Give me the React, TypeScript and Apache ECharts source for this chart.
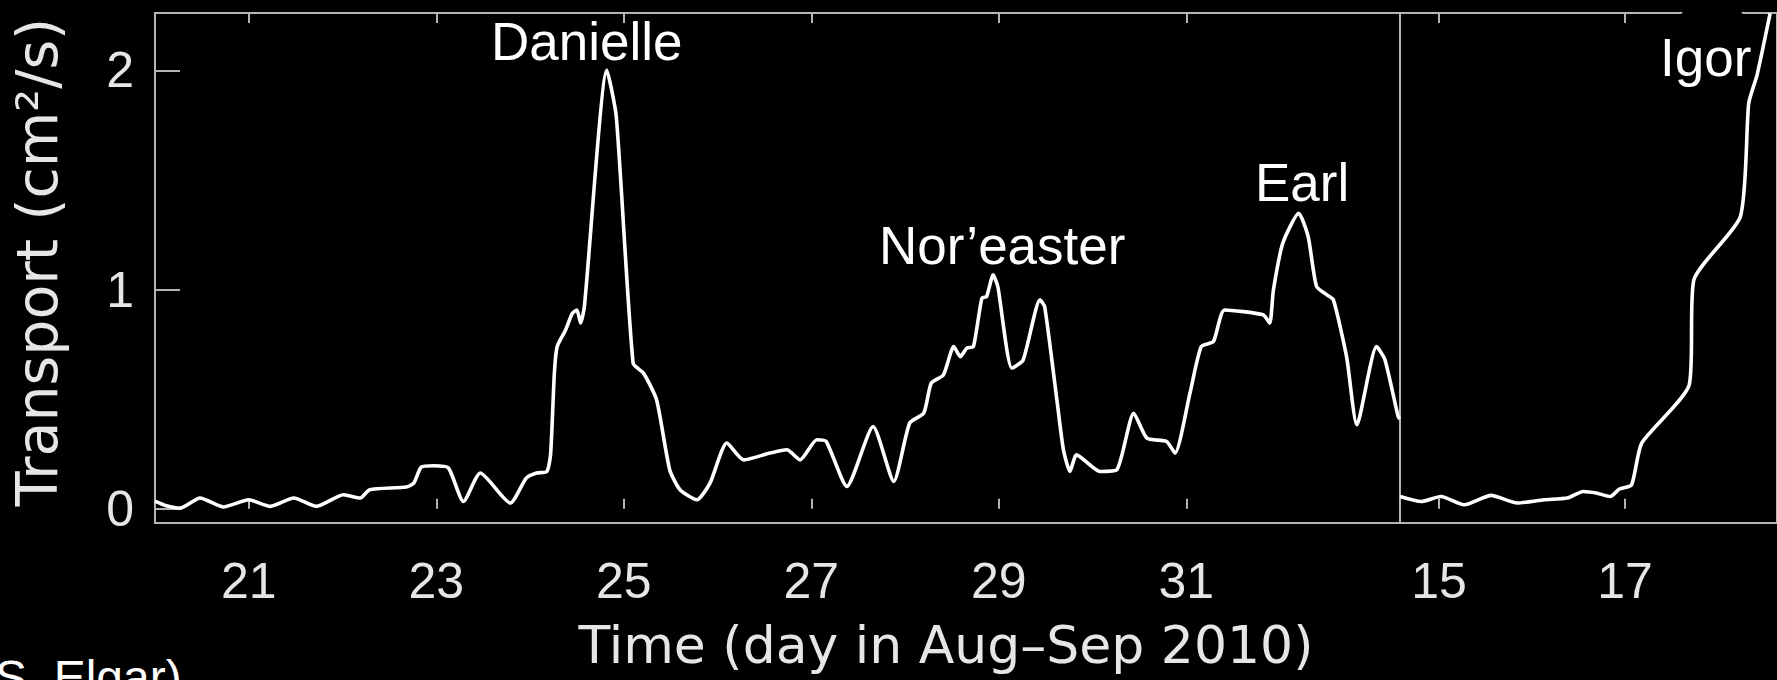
import React, { useEffect, useRef } from "react";
import * as echarts from "echarts";

// Aug 20 – Sep 2 panel (day of month; Sep days continue as 32, 33)
const augSepDays = [
  20.0, 20.12, 20.27, 20.48, 20.73, 21.0, 21.23, 21.48, 21.72, 22.01, 22.19, 22.29, 22.68, 22.76,
  22.84, 22.97, 23.13, 23.29, 23.47, 23.79, 23.96, 24.07, 24.18, 24.22, 24.26, 24.29, 24.38,
  24.45, 24.5, 24.54, 24.58, 24.82, 24.92, 25.1, 25.21, 25.35, 25.49, 25.6, 25.78, 25.92, 26.1,
  26.28, 26.56, 26.74, 26.88, 27.06, 27.16, 27.38, 27.66, 27.88, 28.05, 28.2, 28.28, 28.41, 28.52,
  28.59, 28.66, 28.73, 28.82, 28.87, 28.94, 28.99, 29.14, 29.26, 29.44, 29.49, 29.62, 29.69, 29.76,
  29.83, 30.08, 30.26, 30.44, 30.58, 30.79, 30.88, 31.04, 31.16, 31.29, 31.41, 31.82, 31.89,
  31.93, 32.03, 32.2, 32.3, 32.39, 32.5, 32.57, 32.71, 32.82, 33.03, 33.12, 33.26, 33.28,
];
const augSepTransport = [
  0.035, 0.014, 0.003, 0.049, 0.008, 0.041, 0.011, 0.049, 0.011, 0.064, 0.049, 0.087, 0.099, 0.117,
  0.19, 0.196, 0.186, 0.033, 0.163, 0.026, 0.14, 0.163, 0.17, 0.25, 0.62, 0.74, 0.816,
  0.89, 0.907, 0.848, 0.922, 2.0, 1.79, 0.664, 0.619, 0.497, 0.178, 0.087, 0.041, 0.117, 0.3,
  0.223, 0.254, 0.269, 0.223, 0.315, 0.307, 0.102, 0.375, 0.125, 0.391, 0.436, 0.573, 0.611, 0.74,
  0.694, 0.733, 0.74, 0.961, 0.968, 1.067, 1.014, 0.642, 0.679, 0.953, 0.922, 0.497, 0.269, 0.17,
  0.246, 0.17, 0.178, 0.436, 0.322, 0.307, 0.254, 0.528, 0.74, 0.763, 0.907, 0.885, 0.847,
  0.999, 1.212, 1.348, 1.242, 1.014, 0.976, 0.953, 0.694, 0.383, 0.74, 0.679, 0.421, 0.41,
];

// Sep 14.6 – 18.6 panel
const sepDays = [
  14.58, 14.81, 15.02, 15.27, 15.56, 15.84, 16.13, 16.38, 16.55, 16.69, 16.84, 16.94, 17.07, 17.18,
  17.69, 17.74, 18.24, 18.33, 18.42, 18.56,
];
const sepTransport = [
  0.056, 0.033, 0.056, 0.018, 0.061, 0.026, 0.041, 0.049, 0.079, 0.072, 0.056, 0.09, 0.109, 0.3,
  0.565, 1.044, 1.333, 1.85, 1.98, 2.26,
];

const augSepTicks = [21, 23, 25, 27, 29, 31];
const sepTicks = [15, 17];
const yTicks = [0, 1, 2];

const stormNames = ["Danielle", "Nor\u2019easter", "Earl", "Igor"];
const yTitle = "Transport (cm\u00b2/s)";
const xTitle = "Time (day in Aug\u2013Sep 2010)";
const credit = "(S. Elgar)";

const FRAME = "#b4b4b4";
const LABEL = "#e6e6e6";

export default function App() {
  const ref = useRef<HTMLDivElement>(null);

  useEffect(() => {
    if (!ref.current) return;
    const chart = echarts.init(ref.current, undefined, { renderer: "svg" });

    const zip = (xs: number[], ys: number[]) => xs.map((x, i) => [x, ys[i]]);

    const tickStyle = { color: FRAME, width: 2 };
    const labelStyle = {
      color: LABEL,
      fontSize: 50,
      fontFamily: "Liberation Sans",
    };

    const annFont = '53px "Liberation Sans"';
    const annPos = [
      [491, 41],
      [879, 245],
      [1255, 182],
      [1660, 57],
    ];

    const option: any = {
      animation: false,
      backgroundColor: "#000",
      grid: [
        {
          left: 155,
          top: 13,
          width: 1245,
          height: 510,
          show: true,
          borderColor: FRAME,
          borderWidth: 2,
          backgroundColor: "transparent",
        },
        {
          left: 1400,
          top: 13,
          width: 380,
          height: 510,
          show: true,
          borderColor: FRAME,
          borderWidth: 2,
          backgroundColor: "transparent",
        },
      ],
      xAxis: [
        {
          gridIndex: 0,
          type: "value",
          min: 20,
          max: 33.28,
          position: "bottom",
          axisLine: { show: false },
          splitLine: { show: false },
          axisTick: { inside: true, length: 10, lineStyle: tickStyle, customValues: augSepTicks },
          axisLabel: { ...labelStyle, margin: 33, customValues: augSepTicks },
        },
        {
          gridIndex: 0,
          type: "value",
          min: 20,
          max: 33.28,
          position: "top",
          axisLine: { show: false },
          splitLine: { show: false },
          axisTick: { inside: true, length: 10, lineStyle: tickStyle, customValues: augSepTicks },
          axisLabel: { show: false },
        },
        {
          gridIndex: 1,
          type: "value",
          min: 14.58,
          max: 18.634,
          position: "bottom",
          axisLine: { show: false },
          splitLine: { show: false },
          axisTick: { inside: true, length: 10, lineStyle: tickStyle, customValues: sepTicks },
          axisLabel: { ...labelStyle, margin: 33, customValues: sepTicks },
        },
        {
          gridIndex: 1,
          type: "value",
          min: 14.58,
          max: 18.634,
          position: "top",
          axisLine: { show: false },
          splitLine: { show: false },
          axisTick: { inside: true, length: 10, lineStyle: tickStyle, customValues: sepTicks },
          axisLabel: { show: false },
        },
      ],
      yAxis: [
        {
          gridIndex: 0,
          type: "value",
          min: -0.065,
          max: 2.262,
          axisLine: { show: false },
          splitLine: { show: false },
          axisTick: { inside: true, length: 25, lineStyle: tickStyle, customValues: yTicks },
          axisLabel: { ...labelStyle, margin: 21, customValues: yTicks },
        },
        {
          gridIndex: 1,
          type: "value",
          min: -0.065,
          max: 2.262,
          show: false,
          splitLine: { show: false },
        },
      ],
      series: [
        {
          type: "line",
          xAxisIndex: 0,
          yAxisIndex: 0,
          data: zip(augSepDays, augSepTransport),
          showSymbol: false,
          smooth: 0.2,
          lineStyle: { color: "#ffffff", width: 3.6 },
        },
        {
          type: "line",
          xAxisIndex: 2,
          yAxisIndex: 1,
          data: zip(sepDays, sepTransport),
          showSymbol: false,
          smooth: 0.2,
          lineStyle: { color: "#ffffff", width: 3.6 },
        },
      ],
      graphic: [
        {
          type: "rect",
          z: 100,
          shape: { x: 1681, y: 9, width: 62, height: 62, r: 8 },
          style: { fill: "#000" },
        },
        ...stormNames.map((name, i) => ({
          type: "text",
          z: 110,
          x: annPos[i][0],
          y: annPos[i][1],
          style: {
            text: name,
            fill: "#ffffff",
            font: annFont,
            textAlign: "left",
            textVerticalAlign: "middle",
          },
        })),
        {
          type: "text",
          z: 110,
          x: 37,
          y: 262,
          rotation: Math.PI / 2,
          style: {
            text: yTitle,
            fill: LABEL,
            font: '57px "DejaVu Sans"',
            textAlign: "center",
            textVerticalAlign: "middle",
          },
        },
        {
          type: "text",
          z: 110,
          x: 946,
          y: 645,
          style: {
            text: xTitle,
            fill: LABEL,
            font: '52px "DejaVu Sans"',
            textAlign: "center",
            textVerticalAlign: "middle",
          },
        },
        {
          type: "text",
          z: 110,
          x: -21,
          y: 677,
          style: {
            text: credit,
            fill: "#ffffff",
            font: '48px "Liberation Sans"',
            textAlign: "left",
            textVerticalAlign: "middle",
          },
        },
      ],
    };

    chart.setOption(option);
    return () => chart.dispose();
  }, []);

  return (
    <div
      ref={ref}
      style={{ position: "absolute", left: 0, top: 0, width: 1777, height: 680, background: "#000" }}
    />
  );
}
